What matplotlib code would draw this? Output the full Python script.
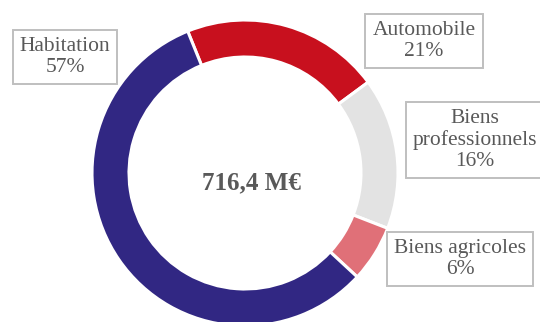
import matplotlib
matplotlib.use("Agg")
import matplotlib.pyplot as plt

# Répartition du chiffre d'affaires par branche
categories = ["Automobile", "Biens professionnels", "Biens agricoles", "Habitation"]
label_text = ["Automobile", "Biens\nprofessionnels", "Biens agricoles", "Habitation"]
shares = [21, 16, 6, 57]
colors = ["#C8101E", "#E3E3E3", "#E07078", "#312783"]
total_label = "716,4 M€"

W, H = 540, 322
fig = plt.figure(figsize=(W / 100, H / 100), dpi=100)
ax = fig.add_axes([0, 0, 1, 1])
ax.set_xlim(0, W)
ax.set_ylim(0, H)
ax.set_aspect("equal")
ax.axis("off")

cx, cy, r, ring = 245, H - 173, 153, 37
ax.pie(shares, colors=colors, startangle=112, counterclock=False,
       center=(cx, cy), radius=r,
       wedgeprops=dict(width=ring, edgecolor="white", linewidth=2.2))
ax.set_xlim(0, W)
ax.set_ylim(0, H)

ax.text(cx + 6, H - 183, total_label, ha="center", va="center",
        fontsize=18, fontweight="bold", color="#595959",
        family="Liberation Serif")

label_pos = [(424, 41), (475, 140), (460, 259), (65, 57)]
for name, pct, (x, y) in zip(label_text, shares, label_pos):
    ax.text(x, H - y, f"{name}\n{pct}%", ha="center", va="center",
            fontsize=15.5, color="#595959", family="Liberation Serif",
            linespacing=1.12,
            bbox=dict(boxstyle="square,pad=0.33", fc="white",
                      ec="#BFBFBF", lw=1.4))

fig.savefig("out.png", dpi=100)
